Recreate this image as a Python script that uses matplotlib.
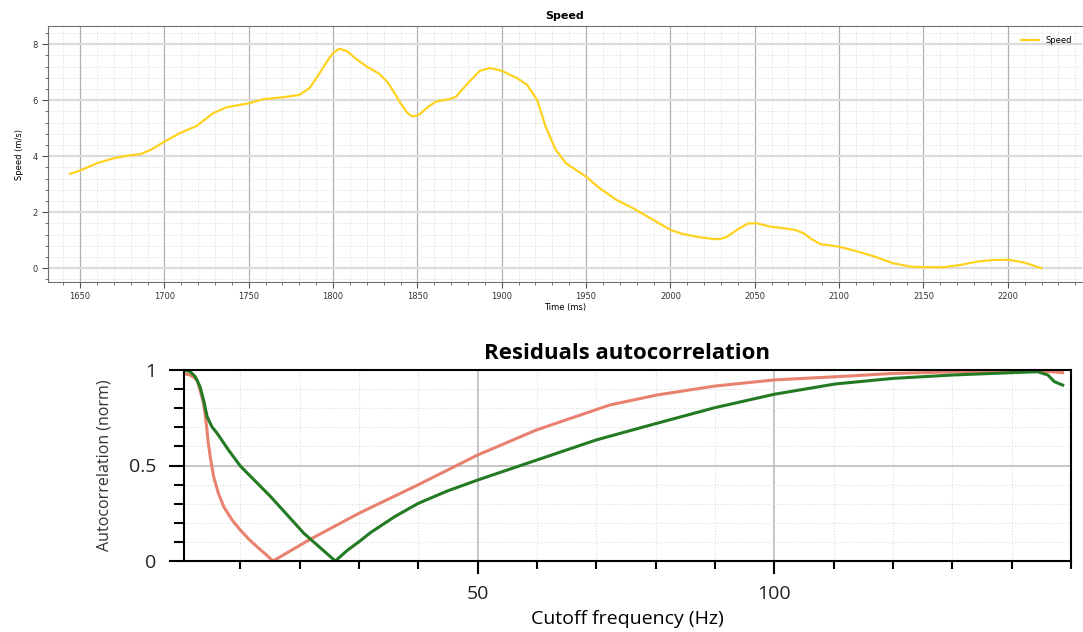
import matplotlib.pyplot as plt
from matplotlib.ticker import MultipleLocator, FixedLocator
import numpy as np

# speed over time (top chart)
time_ms = [1644, 1650, 1660, 1670, 1678, 1686, 1692, 1700, 1709, 1719, 1729, 1737,
           1750, 1759, 1771, 1780, 1786, 1792, 1796, 1800, 1803.6, 1808, 1814, 1820,
           1827, 1832, 1836, 1840, 1844, 1847, 1851, 1856, 1861, 1869, 1873, 1879,
           1887, 1893, 1900, 1909, 1915, 1921, 1926, 1932, 1938, 1950, 1958, 1968,
           1978, 1988, 2000, 2007, 2017, 2025, 2029, 2033, 2040, 2046, 2051, 2059,
           2067, 2074, 2079, 2084, 2089, 2100, 2109, 2121, 2132, 2142, 2150, 2162,
           2172, 2182, 2192, 2201, 2210, 2220]
speed = [3.37, 3.49, 3.75, 3.93, 4.02, 4.08, 4.23, 4.52, 4.82, 5.08, 5.54, 5.75,
         5.89, 6.04, 6.11, 6.19, 6.43, 6.96, 7.35, 7.68, 7.84, 7.76, 7.46, 7.2,
         6.96, 6.67, 6.3, 5.89, 5.55, 5.42, 5.48, 5.75, 5.95, 6.04, 6.13, 6.55,
         7.05, 7.15, 7.05, 6.79, 6.55, 6.01, 5.06, 4.23, 3.75, 3.27, 2.86, 2.44,
         2.14, 1.79, 1.37, 1.23, 1.11, 1.05, 1.04, 1.11, 1.39, 1.6, 1.61, 1.49,
         1.43, 1.37, 1.25, 1.03, 0.86, 0.77, 0.63, 0.42, 0.18, 0.06, 0.04, 0.04,
         0.12, 0.24, 0.30, 0.30, 0.20, 0.0]

# residual autocorrelation vs cutoff frequency (bottom chart)
freq_green = [0.5, 1.55, 2.4, 3.2, 3.8, 4.4, 5.2, 6.1, 8.0, 10, 15.1, 20.7, 26.0,
              28, 30, 32, 36, 40, 45, 50, 60, 70, 80.2, 90, 100, 110.3, 120, 130.2,
              140, 144.4, 146.1, 147.2, 148.6]
acf_green = [1.0, 0.991, 0.965, 0.913, 0.843, 0.755, 0.703, 0.668, 0.581, 0.497,
             0.337, 0.145, 0.0, 0.055, 0.101, 0.15, 0.232, 0.302, 0.368, 0.424,
             0.529, 0.634, 0.721, 0.803, 0.873, 0.927, 0.956, 0.974, 0.986, 0.991,
             0.974, 0.939, 0.921]
freq_red = [0.5, 1.55, 2.7, 3.2, 3.8, 4.25, 4.6, 5.0, 5.5, 6.3, 7.2, 8.6, 10, 11.4,
            12.8, 14.2, 15.5, 21.8, 30, 39.9, 50, 59.9, 72.3, 80.2, 90, 100, 112.9,
            120, 130, 140, 145, 148.6]
acf_red = [0.98, 0.974, 0.948, 0.895, 0.825, 0.721, 0.616, 0.529, 0.441, 0.354,
           0.284, 0.215, 0.162, 0.115, 0.075, 0.037, 0.0, 0.114, 0.25, 0.398,
           0.555, 0.686, 0.817, 0.869, 0.916, 0.948, 0.969, 0.982, 0.99, 0.995,
           0.995, 0.986]

fig = plt.figure(figsize=(10.83, 6.32), dpi=100)

# ---- top: Speed ----
ax1 = fig.add_axes([48/1083, 1-282/632, 1034/1083, 256/632])
ax1.plot(time_ms, speed, color="#ffd21f", lw=1.6, label="Speed")
ax1.set_xlim(1631, 2244)
ax1.set_ylim(-0.49, 8.65)
ax1.xaxis.set_major_locator(MultipleLocator(50))
ax1.xaxis.set_minor_locator(MultipleLocator(10))
ax1.yaxis.set_major_locator(MultipleLocator(2))
ax1.yaxis.set_minor_locator(MultipleLocator(0.4))
ax1.grid(which="major", axis="x", color="#b0b0b0", lw=0.9)
ax1.grid(which="major", axis="y", color="#dcdcdc", lw=1.6)
ax1.grid(which="minor", color="#d4d4d4", lw=0.6, ls=":")
ax1.set_axisbelow(True)
ax1.tick_params(which="both", labelsize=6, color="#555555", labelcolor="#333333")
ax1.tick_params(which="major", length=4)
ax1.tick_params(which="minor", length=2.5)
for s in ["left", "bottom", "top"]:
    ax1.spines[s].set_color("#707070")
ax1.spines["right"].set_visible(False)
ax1.set_title("Speed", fontsize=8, fontweight="bold", pad=5)
ax1.set_xlabel("Time (ms)", fontsize=6, labelpad=1)
ax1.set_ylabel("Speed (m/s)", fontsize=6, labelpad=6)
ax1.legend(loc="upper right", frameon=False, fontsize=6, handlelength=2.2,
           borderaxespad=0.8)

# ---- bottom: Residuals autocorrelation ----
ax2 = fig.add_axes([184/1083, 1-561/632, 887/1083, 191/632])
ax2.plot(freq_red, acf_red, color="#e8826e", lw=2.2)
ax2.plot(freq_green, acf_green, color="#237a23", lw=2.2)
ax2.set_xlim(0.5, 150)
ax2.set_ylim(0, 1)
ax2.xaxis.set_major_locator(FixedLocator([50, 100]))
ax2.xaxis.set_minor_locator(FixedLocator([10, 20, 30, 40, 60, 70, 80, 90,
                                          110, 120, 130, 140, 150]))
ax2.yaxis.set_major_locator(MultipleLocator(0.5))
ax2.yaxis.set_minor_locator(MultipleLocator(0.1))
ax2.yaxis.set_major_formatter(lambda v, p: "{:g}".format(v))
ax2.grid(which="major", color="#bdbdbd", lw=1.2)
ax2.grid(which="minor", color="#dddddd", lw=0.8, ls=":")
ax2.set_axisbelow(True)
ax2.tick_params(which="both", labelsize=14, width=1.5, labelcolor="#222222")
ax2.tick_params(axis="y", which="major", length=11, pad=9)
ax2.tick_params(axis="y", which="minor", length=7)
ax2.tick_params(axis="x", which="major", length=9, pad=8)
ax2.tick_params(axis="x", which="minor", length=6)
for lab in ax2.get_xticklabels() + ax2.get_yticklabels():
    lab.set_family("Open Sans")
for s in ax2.spines.values():
    s.set_linewidth(1.5)
ax2.set_title("Residuals autocorrelation", fontsize=16, fontweight="bold", pad=8,
              family="Open Sans")
ax2.set_xlabel("Cutoff frequency (Hz)", fontsize=14, labelpad=5, family="Open Sans")
ax2.set_ylabel("Autocorrelation (norm)", fontsize=11.5, labelpad=12, color="#333333",
               family="Open Sans")

fig.savefig("out.png", dpi=100)
